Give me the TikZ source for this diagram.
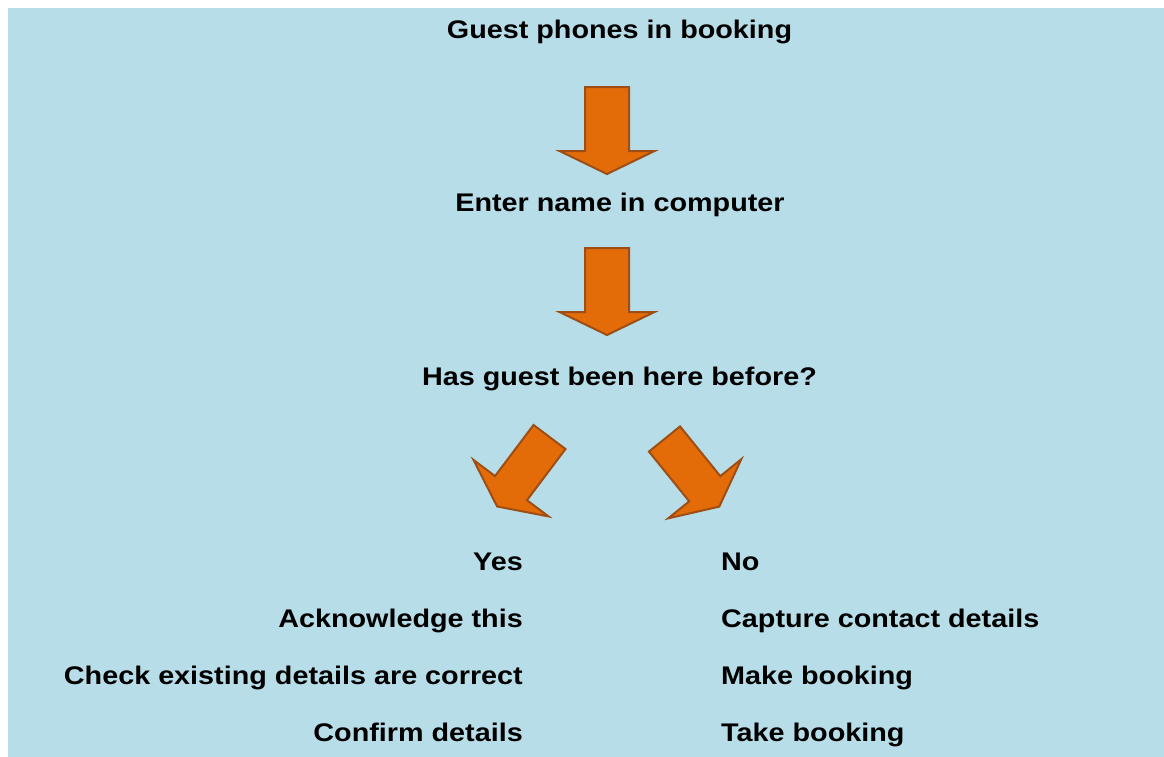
\documentclass[tikz,border=0pt]{standalone}
\usepackage{fontspec}
\setmainfont{Liberation Sans}
\newfontfamily\lblfont[FakeStretch=1.128]{Liberation Sans}
\definecolor{bgblue}{HTML}{B7DDE8}
\definecolor{arrfill}{HTML}{E36C09}
\definecolor{arrdraw}{HTML}{9E4E14}
\tikzset{
  arrowshape/.style={fill=arrfill, draw=arrdraw, line width=2pt, line join=miter},
  lbl/.style={inner sep=0pt, font=\lblfont\fontsize{25.5}{30}\selectfont\bfseries},
  vbarrow/.pic={\draw[arrowshape] (-22,0) -- (22,0) -- (22,64) -- (47.5,64) -- (0,87) -- (-47.5,64) -- (-22,64) -- cycle;},
  dbarrow/.pic={\draw[arrowshape] (-20,0) -- (20,0) -- (20,64) -- (47,64) -- (0,87) -- (-47,64) -- (-20,64) -- cycle;}
}
\begin{document}
\begin{tikzpicture}[x=1pt,y=-1pt]
\useasboundingbox (0,0) rectangle (1164,756);
\fill[white] (0,0) rectangle (1164,756);
\fill[bgblue] (8,8) rectangle (1170,762);
\node[lbl, anchor=base] (guest) at (619.5,38.5) {Guest phones in booking};
\node[lbl, anchor=base] (enter) at (620,211.5) {Enter name in computer};
\node[lbl, anchor=base] (has) at (619.5,385) {Has guest been here before?};
\pic at (607,87) {vbarrow};
\pic at (607,248) {vbarrow};
\pic[rotate=-37] at (549.5,437) {dbarrow};
\pic[rotate=39] at (664.5,439) {dbarrow};
\node[lbl, anchor=base east] (yes) at (523,570) {Yes};
\node[lbl, anchor=base east] (ack) at (523,627) {Acknowledge this};
\node[lbl, anchor=base east] (check) at (523,684) {Check existing details are correct};
\node[lbl, anchor=base east] (confirm) at (523,741) {Confirm details};
\node[lbl, anchor=base west] (no) at (721,570) {No};
\node[lbl, anchor=base west] (capture) at (721,627) {Capture contact details};
\node[lbl, anchor=base west] (make) at (721,684) {Make booking};
\node[lbl, anchor=base west] (take) at (721,741) {Take booking};
\end{tikzpicture}
\end{document}
